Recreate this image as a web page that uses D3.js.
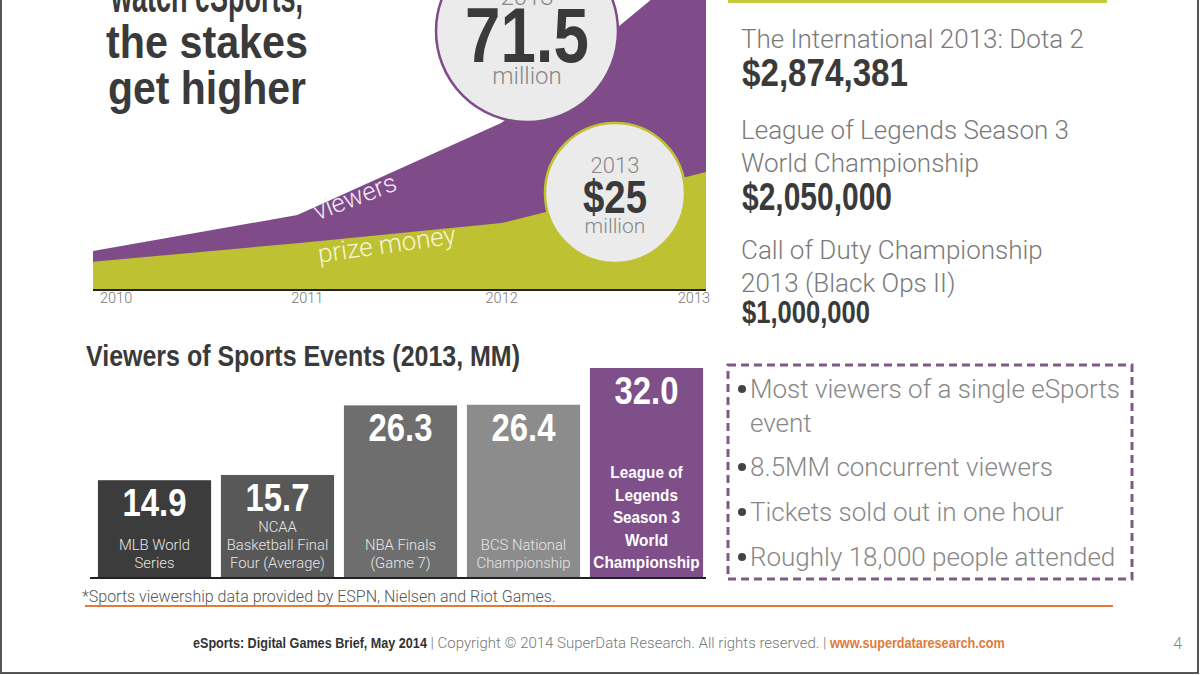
<!DOCTYPE html>
<html>
<head>
<meta charset="utf-8">
<script src="https://cdn.jsdelivr.net/npm/d3@7"></script>
<style>
  body { margin: 0; background: #fff; }
  svg { display: block; }
  .cond { font-family: "Liberation Sans Narrow", "Arial Narrow", "Liberation Sans", sans-serif; font-weight: bold; }
  .light { font-family: "Roboto", "Helvetica Neue", "Liberation Sans", sans-serif; font-weight: 300; }
</style>
</head>
<body>
<div id="chart"></div>
<script>
// area chart data (viewers in millions, prize money in $ millions)
var years = [2010, 2011, 2012, 2013];
var viewers = [8.1, 15.8, 35.5, 71.5];
var prizeMoney = [5.8, 9.8, 14.1, 25];

// top tournaments of 2013
var tournaments = [
  ["The International 2013: Dota 2"],
  ["League of Legends Season 3", "World Championship"],
  ["Call of Duty Championship", "2013 (Black Ops II)"]
];
var tournamentPrizes = ["$2,874,381", "$2,050,000", "$1,000,000"];

// bar chart data
var events = ["MLB", "NCAA", "NBA", "BCS", "LoL"];
var eventViewers = [14.9, 15.7, 26.3, 26.4, 32.0];
var eventLabels = [
  ["MLB World", "Series"],
  ["NCAA", "Basketball Final", "Four (Average)"],
  ["NBA Finals", "(Game 7)"],
  ["BCS National", "Championship"],
  ["League of", "Legends", "Season 3", "World", "Championship"]
];
var facts = [
  ["Most viewers of a single eSports", "event"],
  ["8.5MM concurrent viewers"],
  ["Tickets sold out in one hour"],
  ["Roughly 18,000 people attended"]
];

var width = 1200, height = 675;
var purple = "#7f4c89", olive = "#bec232", dark = "#3a3a3a";

var svg = d3.select("#chart").append("svg")
  .attr("width", width)
  .attr("height", height);

// page frame
svg.append("rect")
  .attr("x", 1).attr("y", -5)
  .attr("width", 1197).attr("height", 678)
  .attr("fill", "none")
  .attr("stroke", "#555")
  .attr("stroke-width", 2);

// ---- headline (top cut off) ----
var headline = ["watch eSports,", "the stakes", "get higher"];
svg.selectAll(".headline")
  .data(headline)
  .enter().append("text")
  .attr("class", "cond")
  .attr("x", 207)
  .attr("y", function(d, i) { return 12 + i * 46; })
  .attr("text-anchor", "middle")
  .attr("font-size", 46)
  .attr("fill", dark)
  .attr("textLength", function(d, i) { return [192, 202, 198][i]; })
  .attr("lengthAdjust", "spacingAndGlyphs")
  .text(function(d) { return d; });

// ---- area chart ----
var x = d3.scaleLinear().domain([2010, 2013]).range([93, 706]);
var y = d3.scaleLinear().domain([0, 25]).range([289, 172]);

var area = d3.area()
  .x(function(d, i) { return x(years[i]); })
  .y0(y(0))
  .y1(function(d) { return y(d); });

svg.append("path")
  .datum(viewers)
  .attr("d", area)
  .attr("fill", purple);

svg.append("path")
  .datum(prizeMoney)
  .attr("d", area)
  .attr("fill", olive);

svg.append("line")
  .attr("x1", x(2010)).attr("x2", x(2013))
  .attr("y1", y(0) + 1).attr("y2", y(0) + 1)
  .attr("stroke", "#222")
  .attr("stroke-width", 2);

svg.selectAll(".year")
  .data(years)
  .enter().append("text")
  .attr("class", "light")
  .attr("x", function(d, i) { return x(d) + [7, 10, 0, 4][i]; })
  .attr("y", 303)
  .attr("text-anchor", function(d, i) { return i === 0 ? "start" : (i === years.length - 1 ? "end" : "middle"); })
  .attr("font-size", 14.5)
  .attr("fill", "#777")
  .text(function(d) { return d; });

svg.append("text")
  .attr("class", "light")
  .attr("transform", "translate(358,205) rotate(-21)")
  .attr("text-anchor", "middle")
  .attr("font-size", 26)
  .attr("fill", "#f1e9f3")
  .text("viewers");

svg.append("text")
  .attr("class", "light")
  .attr("transform", "translate(388,253) rotate(-8)")
  .attr("text-anchor", "middle")
  .attr("font-size", 26)
  .attr("fill", "#f6f4d8")
  .text("prize money");

// callout circles
function callout(cx, cy, r, stroke, year, value, vSize, vLen, yearY, valueY, millionY, yearSize, millionSize) {
  var g = svg.append("g");
  g.append("circle")
    .attr("cx", cx).attr("cy", cy).attr("r", r)
    .attr("fill", "#ebebeb")
    .attr("stroke", stroke)
    .attr("stroke-width", 2.5);
  g.append("text").attr("class", "light")
    .attr("x", cx).attr("y", yearY)
    .attr("text-anchor", "middle").attr("font-size", yearSize)
    .attr("fill", "#888").text(year);
  g.append("text").attr("class", "cond")
    .attr("x", cx).attr("y", valueY)
    .attr("text-anchor", "middle").attr("font-size", vSize)
    .attr("fill", dark)
    .attr("textLength", vLen).attr("lengthAdjust", "spacingAndGlyphs")
    .text(value);
  g.append("text").attr("class", "light")
    .attr("x", cx).attr("y", millionY)
    .attr("text-anchor", "middle").attr("font-size", millionSize)
    .attr("fill", "#888").text("million");
}
callout(527, 31, 91, purple, "2013", "71.5", 78, 124, 5, 62, 84, 24, 24);
callout(615, 193, 70, olive, "2013", "$25", 46, 64, 173, 213, 233, 22, 21);

// ---- right column: top prize pools ----
svg.append("rect")
  .attr("x", 728).attr("y", -4)
  .attr("width", 379).attr("height", 7)
  .attr("fill", "#c5c93e");

var blockY = [48, 139, 259];
tournaments.forEach(function(lines, i) {
  lines.forEach(function(line, j) {
    svg.append("text").attr("class", "light")
      .attr("x", 741).attr("y", blockY[i] + j * 33)
      .attr("font-size", 26)
      .attr("fill", "#7a7a7a")
      .text(line);
  });
  var py = blockY[i] + (lines.length - 1) * 33 + (i === 2 ? 31 : 38);
  svg.append("text").attr("class", "cond")
    .attr("x", 742).attr("y", py)
    .attr("font-size", i === 2 ? 32 : 38)
    .attr("fill", dark)
    .attr("textLength", [166, 150, 128][i]).attr("lengthAdjust", "spacingAndGlyphs")
    .text(tournamentPrizes[i]);
});

// ---- bar chart ----
svg.append("text").attr("class", "cond")
  .attr("x", 86).attr("y", 366)
  .attr("font-size", 29)
  .attr("fill", dark)
  .attr("textLength", 434).attr("lengthAdjust", "spacingAndGlyphs")
  .text("Viewers of Sports Events (2013, MM)");

var xb = d3.scaleBand().domain(events).range([93, 708]).paddingInner(0.08).paddingOuter(0.04);
var yb = d3.scaleLinear().domain([0, 32]).range([578, 368]);
var barColors = ["#3c3c3c", "#585858", "#6e6e6e", "#8c8c8c", "#7f4f8a"];

var bars = svg.selectAll(".bar")
  .data(events)
  .enter().append("g")
  .attr("class", "bar");

bars.append("rect")
  .attr("x", function(d) { return xb(d); })
  .attr("y", function(d, i) { return yb(eventViewers[i]); })
  .attr("width", xb.bandwidth())
  .attr("height", function(d, i) { return yb(0) - yb(eventViewers[i]); })
  .attr("fill", function(d, i) { return barColors[i]; });

bars.append("text").attr("class", "cond")
  .attr("x", function(d) { return xb(d) + xb.bandwidth() / 2; })
  .attr("y", function(d, i) { return yb(eventViewers[i]) + 36; })
  .attr("text-anchor", "middle")
  .attr("font-size", 38)
  .attr("fill", "#fff")
  .attr("textLength", 64).attr("lengthAdjust", "spacingAndGlyphs")
  .text(function(d, i) { return eventViewers[i].toFixed(1); });

bars.each(function(d, i) {
  var lines = eventLabels[i];
  var last = i === events.length - 1;
  var step = last ? 22.5 : 18;
  var cx = xb(d) + xb.bandwidth() / 2;
  d3.select(this).selectAll(".lbl")
    .data(lines)
    .enter().append("text")
    .attr("class", last ? "cond squeeze" : "light")
    .attr("x", cx)
    .attr("y", function(l, j) { return 568 - (lines.length - 1 - j) * step; })
    .attr("text-anchor", "middle")
    .attr("font-size", last ? 17 : 14.8)
    .attr("fill", last ? "#fff" : "#e6e6e6")
    .text(function(l) { return l; });
});

svg.append("line")
  .attr("x1", 90).attr("x2", 706)
  .attr("y1", yb(0)).attr("y2", yb(0))
  .attr("stroke", "#222")
  .attr("stroke-width", 2);

// ---- dashed fact box ----
svg.append("rect")
  .attr("x", 728).attr("y", 365)
  .attr("width", 404).attr("height", 214)
  .attr("fill", "none")
  .attr("stroke", "#7f5a86")
  .attr("stroke-width", 3)
  .attr("stroke-dasharray", "8,5");

var factY = [398, 476, 521, 566];
facts.forEach(function(lines, i) {
  svg.append("circle")
    .attr("cx", 742).attr("cy", factY[i] - 9)
    .attr("r", 4)
    .attr("fill", "#444");
  lines.forEach(function(line, j) {
    svg.append("text").attr("class", "light")
      .attr("x", 750).attr("y", factY[i] + j * 34)
      .attr("font-size", 26)
      .attr("fill", "#888")
      .text(line);
  });
});

// ---- footnote and footer ----
svg.append("text").attr("class", "light")
  .attr("x", 82).attr("y", 602)
  .attr("font-size", 16)
  .attr("fill", "#555")
  .text("*Sports viewership data provided by ESPN, Nielsen and Riot Games.");

svg.append("line")
  .attr("x1", 85).attr("x2", 1113)
  .attr("y1", 606).attr("y2", 606)
  .attr("stroke", "#e07b39")
  .attr("stroke-width", 2);

var footer = svg.append("text")
  .attr("x", 193).attr("y", 648);
footer.append("tspan").attr("class", "cond squeeze").attr("fill", "#333")
  .attr("font-size", 14)
  .text("eSports: Digital Games Brief, May 2014");
footer.append("tspan").attr("class", "light").attr("fill", "#777")
  .attr("font-size", 15)
  .text(" | Copyright \u00a9 2014 SuperData Research. All rights reserved. | ");
footer.append("tspan").attr("class", "cond squeeze").attr("fill", "#e07b39")
  .attr("font-size", 14)
  .text("www.superdataresearch.com");

// squeeze bold labels so they read like a condensed face
svg.selectAll(".squeeze").each(function() {
  var w = this.getComputedTextLength();
  d3.select(this).attr("textLength", w * 0.9).attr("lengthAdjust", "spacingAndGlyphs");
});

svg.append("text").attr("class", "light")
  .attr("x", 1182).attr("y", 649)
  .attr("text-anchor", "end")
  .attr("font-size", 16)
  .attr("fill", "#888")
  .text("4");
</script>
</body>
</html>
